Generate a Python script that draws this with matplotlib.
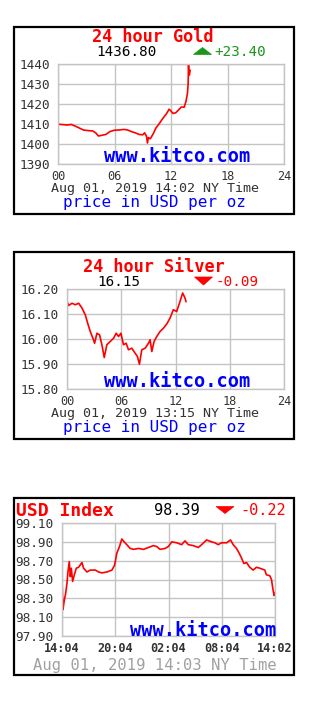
import matplotlib
matplotlib.use("Agg")
import matplotlib.pyplot as plt
from matplotlib.patches import Rectangle, Polygon

W, H = 320, 713
MONO = "DejaVu Sans Mono"

# ---------------- data ----------------
gold_hours = [0, 0.5, 1.0, 1.4, 1.9, 2.3, 2.7, 3.2, 3.7, 4.0, 4.3, 4.6, 5.1, 5.5, 6.0,
              6.5, 7.0, 7.4, 7.8, 8.2, 8.6, 9.0, 9.2, 9.4, 9.5, 9.6, 9.8, 10.1, 10.4,
              10.8, 11.1, 11.5, 11.8, 12.0, 12.2, 12.5, 12.8, 13.1, 13.4, 13.6, 13.75,
              13.82, 13.86, 13.9, 13.95, 14.03]
gold_prices = [1409.9, 1409.7, 1409.5, 1409.8, 1408.8, 1407.9, 1407.0, 1406.7, 1406.5,
               1405.6, 1404.0, 1404.3, 1404.8, 1406.2, 1406.9, 1407.0, 1407.3, 1407.0,
               1406.2, 1405.6, 1404.8, 1404.6, 1405.6, 1403.8, 1400.5, 1403.2, 1402.6,
               1405.0, 1408.0, 1410.5, 1412.6, 1415.0, 1417.4, 1416.5, 1415.3, 1415.6,
               1417.0, 1418.5, 1418.4, 1421.5, 1425.5, 1430.0, 1440.0, 1436.0, 1434.5,
               1436.8]
gold_yticks = [1390, 1400, 1410, 1420, 1430, 1440]
gold_ylabels = ["1390", "1400", "1410", "1420", "1430", "1440"]

silver_hours = [0, 0.18, 0.55, 0.92, 1.29, 1.65, 2.02, 2.28, 2.57, 2.87, 3.05, 3.31,
                3.60, 3.86, 4.12, 4.41, 4.78, 5.15, 5.44, 5.70, 5.96, 6.25, 6.54, 6.80,
                7.17, 7.54, 7.79, 8.01, 8.27, 8.64, 9.01, 9.19, 9.38, 9.63, 9.93, 10.29,
                10.66, 11.03, 11.40, 11.76, 12.13, 12.50, 12.79, 13.05, 13.16]
silver_prices = [16.150, 16.134, 16.143, 16.137, 16.143, 16.124, 16.097, 16.064, 16.030,
                 16.003, 15.983, 16.023, 16.017, 15.977, 15.926, 15.977, 15.990, 16.003,
                 16.023, 16.010, 16.023, 15.977, 15.983, 15.957, 15.963, 15.943, 15.930,
                 15.899, 15.957, 15.963, 15.983, 15.997, 15.950, 15.990, 16.010, 16.030,
                 16.043, 16.060, 16.084, 16.117, 16.110, 16.150, 16.184, 16.164, 16.150]
silver_yticks = [15.80, 15.90, 16.00, 16.10, 16.20]
silver_ylabels = ["15.80", "15.90", "16.00", "16.10", "16.20"]

hour_ticks = [0, 6, 12, 18, 24]
hour_labels = ["00", "06", "12", "18", "24"]

usd_hours = [0, 0.04, 0.11, 0.26, 0.41, 0.56, 0.67, 0.82, 0.94, 1.05, 1.20, 1.39, 1.61,
             1.87, 2.25, 2.43, 2.81, 3.18, 3.75, 4.12, 4.49, 5.06, 5.62, 5.92, 6.18,
             6.48, 6.74, 7.00, 7.30, 7.68, 8.05, 8.61, 9.18, 9.74, 10.30, 10.67, 11.05,
             11.61, 11.99, 12.36, 12.92, 13.48, 13.86, 14.23, 14.79, 15.36, 15.73, 16.29,
             16.85, 17.23, 17.60, 17.98, 18.54, 18.99, 19.29, 19.66, 19.96, 20.22, 20.49,
             20.79, 21.16, 21.54, 21.91, 22.28, 22.85, 23.03, 23.41, 23.60, 23.78, 23.90,
             23.97]
usd_values = [98.495, 98.39, 98.18, 98.28, 98.35, 98.46, 98.58, 98.69, 98.53, 98.62,
              98.48, 98.55, 98.62, 98.63, 98.68, 98.62, 98.58, 98.60, 98.60, 98.58,
              98.57, 98.58, 98.60, 98.65, 98.78, 98.85, 98.93, 98.90, 98.87, 98.83,
              98.82, 98.83, 98.82, 98.84, 98.86, 98.85, 98.82, 98.83, 98.85, 98.90,
              98.89, 98.87, 98.91, 98.87, 98.86, 98.84, 98.87, 98.92, 98.90, 98.89,
              98.87, 98.89, 98.89, 98.92, 98.87, 98.83, 98.78, 98.73, 98.67, 98.68,
              98.63, 98.60, 98.63, 98.62, 98.60, 98.55, 98.54, 98.50, 98.39, 98.33,
              98.36]
usd_yticks = [97.90, 98.10, 98.30, 98.50, 98.70, 98.90, 99.10]
usd_ylabels = ["97.90", "98.10", "98.30", "98.50", "98.70", "98.90", "99.10"]
usd_xlabels = ["14:04", "20:04", "02:04", "08:04", "14:02"]

# ---------------- styling ----------------
RED = "#ff0000"
GREEN = "#1a961a"
BLUE = "#0000ff"
GRID = "#c4c4c4"
TICKC = "#333333"

fig = plt.figure(figsize=(W / 100, H / 100), dpi=100)
fig.patch.set_facecolor("white")


def ftxt(x, y, s, **kw):
    kw.setdefault("family", MONO)
    kw.setdefault("va", "baseline")
    fig.text(x / W, 1 - y / H, s, **kw)


def frame(x0, y0, x1, y1):
    fig.add_artist(Rectangle((x0 / W, 1 - y1 / H), (x1 - x0) / W, (y1 - y0) / H,
                             transform=fig.transFigure, fill=False,
                             edgecolor="black", linewidth=1.6))


def tri(cx, cy, up, color, w=18, h=7):
    if up:
        pts = [(cx - w / 2, cy + h / 2), (cx + w / 2, cy + h / 2), (cx, cy - h / 2)]
    else:
        pts = [(cx - w / 2, cy - h / 2), (cx + w / 2, cy - h / 2), (cx, cy + h / 2)]
    pts = [(x / W, 1 - y / H) for x, y in pts]
    fig.add_artist(Polygon(pts, closed=True, transform=fig.transFigure,
                           facecolor=color, edgecolor=color, linewidth=0.5))


def panel(x0, y0, x1, y1, xs, ys, ylim, yticks, ylabels, xticks, xlabels,
          ypad, xbase, yfs=9.2, xfs=8.6, xweight="normal"):
    ax = fig.add_axes([x0 / W, 1 - y1 / H, (x1 - x0) / W, (y1 - y0) / H])
    ax.plot(xs, ys, color=RED, linewidth=1.2)
    ax.set_xlim(0, 24)
    ax.set_ylim(*ylim)
    ax.set_yticks(yticks)
    ax.set_yticklabels(ylabels, family=MONO, fontsize=yfs, color=TICKC)
    ax.set_xticks(xticks)
    ax.set_xticklabels(xlabels, family=MONO, fontsize=xfs, color=TICKC,
                       weight=xweight)
    plt.setp(ax.get_xticklabels(), va="baseline")
    ax.tick_params(axis="y", length=0, pad=ypad)
    ax.tick_params(axis="x", length=0, pad=(xbase - y1) * 0.72)
    ax.grid(True, color=GRID, linewidth=1.0)
    ax.set_axisbelow(True)
    for s in ax.spines.values():
        s.set_color(GRID)
        s.set_linewidth(1.0)
    return ax


# ---------------- Gold ----------------
frame(14, 27, 294, 214)
panel(58, 64, 284, 164, gold_hours, gold_prices, (1390, 1440),
      gold_yticks, gold_ylabels, hour_ticks, hour_labels, ypad=6, xbase=180)
ftxt(153, 42.5, "24 hour Gold", color=RED, fontsize=12.2, weight="bold", ha="center")
ftxt(127, 56.5, "1436.80", color="black", fontsize=10.3, ha="center")
tri(202.5, 51, True, GREEN)
ftxt(214, 56.5, "+23.40", color=GREEN, fontsize=10.3, ha="left")
ftxt(177, 162, "www.kitco.com", color=BLUE, fontsize=13.4, weight="bold", ha="center")
ftxt(155, 192, "Aug 01, 2019 14:02 NY Time", color=TICKC, fontsize=9.6, ha="center")
ftxt(154, 206.5, "price in USD per oz", color=BLUE, fontsize=11.5, ha="center")

# ---------------- Silver ----------------
frame(14, 252, 294, 439)
panel(67, 289, 284, 389, silver_hours, silver_prices, (15.80, 16.20),
      silver_yticks, silver_ylabels, hour_ticks, hour_labels, ypad=6, xbase=405)
ftxt(153.5, 271.5, "24 hour Silver", color=RED, fontsize=12.2, weight="bold", ha="center")
ftxt(119, 286, "16.15", color="black", fontsize=10.3, ha="center")
tri(203.5, 281, False, RED, h=8)
ftxt(216, 286, "-0.09", color=RED, fontsize=10.3, ha="left")
ftxt(177, 387, "www.kitco.com", color=BLUE, fontsize=13.4, weight="bold", ha="center")
ftxt(155, 417, "Aug 01, 2019 13:15 NY Time", color=TICKC, fontsize=9.6, ha="center")
ftxt(154, 432, "price in USD per oz", color=BLUE, fontsize=11.5, ha="center")

# ---------------- USD Index ----------------
frame(14, 498, 294, 675)
panel(62, 523, 275, 636, usd_hours, usd_values, (97.90, 99.10),
      usd_yticks, usd_ylabels, hour_ticks, usd_xlabels, ypad=6, xbase=651.5,
      xweight="bold")
ftxt(15.5, 515.5, "USD Index", color=RED, fontsize=13, weight="bold", ha="left")
ftxt(176.5, 515, "98.39", color="black", fontsize=11, ha="center")
tri(225, 510, False, RED)
ftxt(240, 515, "-0.22", color=RED, fontsize=11, ha="left")
ftxt(203, 635.5, "www.kitco.com", color=BLUE, fontsize=13.4, weight="bold", ha="center")
ftxt(155, 670, "Aug 01, 2019 14:03 NY Time", color="#a0a0a0", fontsize=11.2, ha="center")

fig.savefig("out.png", dpi=100, facecolor="white")
